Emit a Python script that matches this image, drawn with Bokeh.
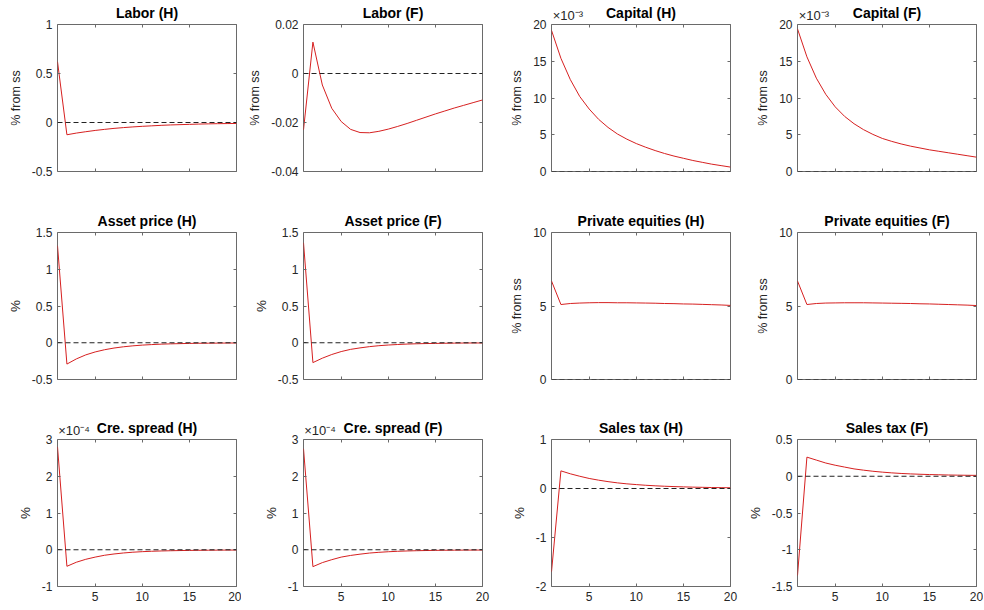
from bokeh.plotting import figure
from bokeh.models import Range1d, FixedTicker, LinearAxis, Span, CustomJSTickFormatter
from bokeh.layouts import column, row
from bokeh.embed import file_html
from bokeh.resources import INLINE

# ---------------- data ----------------
periods = list(range(1, 21))

labor_h = [0.62, -0.125, -0.108, -0.094, -0.081, -0.070, -0.060, -0.052, -0.045, -0.039,
           -0.034, -0.029, -0.025, -0.022, -0.019, -0.016, -0.014, -0.012, -0.011, -0.010]
labor_f = [-0.023, 0.0128, -0.0047, -0.0142, -0.0196, -0.0228, -0.0241, -0.0242, -0.0236, -0.0227,
           -0.0216, -0.0204, -0.0191, -0.0178, -0.0165, -0.0153, -0.0141, -0.0130, -0.0119, -0.0108]
# capital, in units of 1e-3
capital_h = [19.2, 15.4, 12.5, 10.2, 8.5, 7.1, 6.0, 5.1, 4.4, 3.8,
             3.3, 2.85, 2.45, 2.1, 1.8, 1.5, 1.25, 1.0, 0.8, 0.6]
capital_f = [19.4, 15.6, 12.7, 10.5, 8.8, 7.5, 6.5, 5.7, 5.05, 4.5,
             4.1, 3.75, 3.45, 3.2, 2.95, 2.75, 2.55, 2.35, 2.15, 1.95]
asset_h = [1.32, -0.29, -0.22, -0.165, -0.125, -0.095, -0.072, -0.055, -0.042, -0.032,
           -0.025, -0.019, -0.015, -0.012, -0.009, -0.007, -0.006, -0.005, -0.004, -0.003]
asset_f = [1.36, -0.27, -0.21, -0.16, -0.12, -0.09, -0.07, -0.053, -0.04, -0.031,
           -0.024, -0.018, -0.014, -0.011, -0.009, -0.007, -0.005, -0.004, -0.003, -0.003]
equity_h = [6.7, 5.1, 5.17, 5.2, 5.22, 5.23, 5.23, 5.22, 5.22, 5.21,
            5.2, 5.19, 5.17, 5.16, 5.14, 5.13, 5.11, 5.09, 5.07, 5.04]
equity_f = [6.7, 5.1, 5.17, 5.2, 5.21, 5.22, 5.22, 5.22, 5.21, 5.2,
            5.19, 5.18, 5.17, 5.15, 5.14, 5.12, 5.1, 5.08, 5.06, 5.03]
# credit spread, in units of 1e-4
spread_h = [2.8, -0.45, -0.34, -0.26, -0.2, -0.15, -0.115, -0.088, -0.067, -0.052,
            -0.041, -0.033, -0.027, -0.022, -0.018, -0.015, -0.013, -0.011, -0.009, -0.008]
spread_f = [2.75, -0.46, -0.35, -0.27, -0.2, -0.155, -0.12, -0.09, -0.07, -0.054,
            -0.042, -0.033, -0.026, -0.021, -0.017, -0.014, -0.012, -0.01, -0.009, -0.008]
sales_h = [-1.7, 0.36, 0.30, 0.25, 0.205, 0.17, 0.14, 0.115, 0.095, 0.08,
           0.066, 0.055, 0.046, 0.039, 0.033, 0.028, 0.024, 0.02, 0.017, 0.015]
sales_f = [-1.35, 0.26, 0.22, 0.18, 0.15, 0.125, 0.1, 0.083, 0.068, 0.056,
           0.046, 0.038, 0.032, 0.027, 0.023, 0.02, 0.017, 0.015, 0.013, 0.012]

x_ticks = [5, 10, 15, 20]

panels = [
    # title, ylabel, values, (ymin, ymax), yticks, exponent
    ("Labor (H)", "% from ss", labor_h, (-0.5, 1), [-0.5, 0, 0.5, 1], None),
    ("Labor (F)", "% from ss", labor_f, (-0.04, 0.02), [-0.04, -0.02, 0, 0.02], None),
    ("Capital (H)", "% from ss", capital_h, (0, 20), [0, 5, 10, 15, 20], "×10⁻³"),
    ("Capital (F)", "% from ss", capital_f, (0, 20), [0, 5, 10, 15, 20], "×10⁻³"),
    ("Asset price (H)", "%", asset_h, (-0.5, 1.5), [-0.5, 0, 0.5, 1, 1.5], None),
    ("Asset price (F)", "%", asset_f, (-0.5, 1.5), [-0.5, 0, 0.5, 1, 1.5], None),
    ("Private equities (H)", "% from ss", equity_h, (0, 10), [0, 5, 10], None),
    ("Private equities (F)", "% from ss", equity_f, (0, 10), [0, 5, 10], None),
    ("Cre. spread (H)", "%", spread_h, (-1, 3), [-1, 0, 1, 2, 3], "×10⁻⁴"),
    ("Cre. spread (F)", "%", spread_f, (-1, 3), [-1, 0, 1, 2, 3], "×10⁻⁴"),
    ("Sales tax (H)", "%", sales_h, (-2, 1), [-2, -1, 0, 1], None),
    ("Sales tax (F)", "%", sales_f, (-1.5, 0.5), [-1.5, -1, -0.5, 0, 0.5], None),
]

# ---------------- layout / style ----------------
FONT = "Liberation Sans"
TXT = "#262626"
AX = "#6a6a6a"
FW, FH = 179, 147
LB = [57, 62, 61, 59]
RB = [5, 8, 8, 7]
TB = [24, 32, 31]
BB = [29, 29, 24]
EXP_POS = 2.75   # x position (data) where the centred scale-factor text sits


def style_axis(ax, ticks, labels=True):
    ax.ticker = FixedTicker(ticks=ticks)
    ax.axis_line_color = None
    ax.major_tick_line_color = AX
    ax.major_tick_in = 3
    ax.major_tick_out = 0
    ax.minor_tick_line_color = None
    ax.major_label_text_font = FONT
    ax.major_label_text_font_size = "12px"
    ax.major_label_text_color = TXT
    ax.major_label_standoff = 5
    if labels:
        ax.formatter = CustomJSTickFormatter(code="return String(Math.round(tick*1e6)/1e6);")
    else:
        ax.formatter = CustomJSTickFormatter(code="return '';")
        ax.major_label_standoff = 0


def make_panel(i):
    title, ylab, vals, (lo, hi), yt, expo = panels[i]
    r, c = divmod(i, 4)
    p = figure(frame_width=FW, frame_height=FH,
               min_border_left=LB[c], min_border_right=RB[c],
               min_border_top=TB[r], min_border_bottom=BB[r],
               x_range=Range1d(1, 20), y_range=Range1d(lo, hi),
               output_backend="svg", toolbar_location=None,
               background_fill_color="white", border_fill_color="white")
    p.grid.visible = False
    p.outline_line_color = AX
    p.outline_line_width = 1

    style_axis(p.xaxis[0], x_ticks, labels=(r == 2))
    ya = p.yaxis[0]
    style_axis(ya, yt, labels=True)
    ya.axis_label = ylab
    ya.axis_label_text_font = FONT
    ya.axis_label_text_font_size = "12.5px" if len(ylab) > 1 else "13.5px"
    ya.axis_label_text_font_style = "normal"
    ya.axis_label_text_color = TXT
    ya.axis_label_standoff = 6

    # top axis: inner (minor) ticks, panel title as its label, scale factor as its tick label
    top = LinearAxis()
    style_axis(top, x_ticks, labels=False)
    if expo is not None:
        top.ticker = FixedTicker(ticks=[EXP_POS], minor_ticks=x_ticks)
        top.major_tick_line_color = None
        top.minor_tick_line_color = AX
        top.minor_tick_in = 3
        top.minor_tick_out = 0
        top.formatter = CustomJSTickFormatter(args=dict(e=expo), code="return e;")
        top.major_label_text_font_size = "13px"
        top.major_label_standoff = 2
    top.axis_label = title
    top.axis_label_align = "center"
    top.axis_label_standoff_mode = "axis"
    top.axis_label_standoff = 4
    top.axis_label_text_font = FONT
    top.axis_label_text_font_size = "14px"
    top.axis_label_text_font_style = "bold"
    top.axis_label_text_color = "#000000"
    p.add_layout(top, "above")

    right = LinearAxis()
    style_axis(right, yt, labels=False)
    p.add_layout(right, "right")

    p.add_layout(Span(location=0, dimension="width", line_color="#222222",
                      line_width=1, line_dash="5 3"))
    p.line(periods, vals, line_color="#d62020", line_width=1)
    return p


figs = [make_panel(i) for i in range(12)]
layout = column(row(*figs[0:4]), row(*figs[4:8]), row(*figs[8:12]))

open("out.html", "w").write(file_html(layout, INLINE))
